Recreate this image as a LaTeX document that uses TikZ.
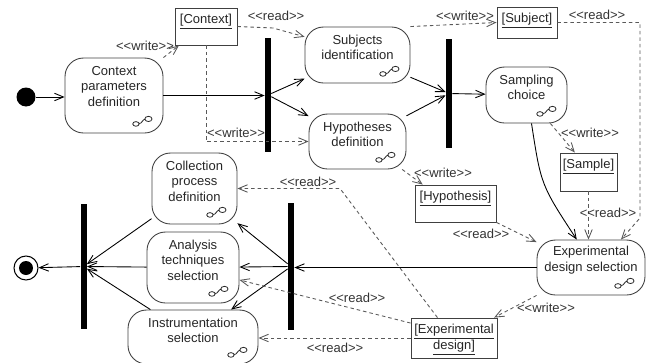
\documentclass[tikz,border=0pt]{standalone}
\usepackage{fontspec}
\newfontfamily\umlfont{Liberation Sans}[Ligatures=TeXOff]
\usetikzlibrary{arrows.meta}
\tikzset{
  act/.style={draw=black!75,line width=.5pt,rounded corners=.37cm,inner sep=0pt},
  obj/.style={draw=black!75,line width=.5pt,inner sep=0pt},
  txt/.style={align=center,font=\umlfont\fontsize{7.4}{8.9}\selectfont,text=black!85},
  otxt/.style={txt,anchor=north,inner sep=3.5pt},
  st/.style={font=\umlfont\fontsize{7.4}{8.9}\selectfont,text=black!80,inner sep=1pt},
  bar/.style={fill=black,minimum width=.12cm,inner sep=0pt},
  ini/.style={circle,fill=black,minimum size=.38cm,inner sep=0pt},
  fin/.style={circle,draw=black,line width=.6pt,minimum size=.48cm,inner sep=0pt,
    path picture={\fill[black] (path picture bounding box.center) circle (.14cm);}},
  flow/.style={line width=.5pt,-{Straight Barb[length=1.8mm,width=1.5mm]}},
  dep/.style={line width=.5pt,black!65,dash pattern=on 2pt off 1.7pt,-{Straight Barb[length=1.8mm,width=1.5mm]}},
  subact/.pic={
    \draw[line width=.45pt,black!85] (-6.5,2.5) ellipse (3.2 and 2.3) (6,-2.5) ellipse (3.6 and 2.6)
      (-3.3,2) .. controls (-0.5,2.5) and (0,-2) .. (2.4,-2.2);
  },
}
\begin{document}
\begin{tikzpicture}[x=0.02cm,y=-0.02cm]
  \useasboundingbox (0,0) rectangle (649,362);
  % initial and final nodes
  \node[ini] (start) at (26,97) {};
  \node[fin] (end) at (26,268) {};
  % activities
  \node[act,minimum width=1.96cm,minimum height=1.5cm,label={[txt,yshift=.18cm]center:Context\\parameters\\definition}] (cpd) at (114,95.5) {};
  \node[act,minimum width=2.1cm,minimum height=1.12cm,label={[txt,yshift=.15cm]center:Subjects\\identification}] (subj) at (357.5,55) {};
  \node[act,minimum width=1.94cm,minimum height=1.1cm,label={[txt,yshift=.14cm]center:Hypotheses\\definition}] (hyp) at (357.5,141.5) {};
  \node[act,minimum width=1.62cm,minimum height=1.12cm,label={[txt,yshift=.15cm]center:Sampling\\choice}] (samp) at (526.5,95) {};
  \node[act,minimum width=2.16cm,minimum height=1.1cm,label={[txt,yshift=.15cm]center:Experimental\\design selection}] (eds) at (591,267.5) {};
  \node[act,minimum width=1.7cm,minimum height=1.42cm,label={[txt,yshift=.15cm]center:Collection\\process\\definition}] (cpdef) at (194.5,188.5) {};
  \node[act,minimum width=1.84cm,minimum height=1.42cm,label={[txt,yshift=.15cm]center:Analysis\\techniques\\selection}] (ats) at (193,267.5) {};
  \node[act,minimum width=2.6cm,minimum height=1.08cm,label={[txt,yshift=.13cm]center:Instrumentation\\selection}] (ins) at (193,337) {};
  \foreach \n in {cpd,subj,hyp,samp,eds,cpdef,ats,ins}
    \pic at ([shift={(-21,-12)}]\n.south east) {subact};
  % objects
  \node[obj,minimum width=1.24cm,minimum height=.74cm,label={[otxt]north:\underline{[Context]}}] (ctx) at (206,26.5) {};
  \node[obj,minimum width=1.2cm,minimum height=.62cm,label={[otxt]north:\underline{[Subject]}}] (subjobj) at (527,22.5) {};
  \node[obj,minimum width=1.14cm,minimum height=.76cm,label={[otxt]north:\underline{[Sample]}}] (sampleobj) at (588.5,172) {};
  \node[obj,minimum width=1.62cm,minimum height=.74cm,label={[otxt]north:\underline{[Hypothesis]}}] (hypobj) at (455.5,203.5) {};
  \node[obj,minimum width=1.72cm,minimum height=.8cm,label={[otxt]north:\underline{[Experimental}\\\underline{design]}}] (edobj) at (454,338) {};
  % fork and join bars
  \node[bar,minimum height=2.28cm] (fork1) at (268,95) {};
  \node[bar,minimum height=2.18cm] (fork2) at (449,93.5) {};
  \node[bar,minimum height=2.54cm] (join1) at (291,266.5) {};
  \node[bar,minimum height=2.5cm] (join2) at (83.5,266.5) {};
  % control flow
  \draw[flow] (start) -- (start -| cpd.west);
  \draw[flow] (cpd) -- (cpd -| fork1.west);
  \draw[flow] (fork1) -- (subj);
  \draw[flow] (fork1) -- (hyp);
  \draw[flow] (subj) -- (fork2);
  \draw[flow] (hyp) -- (fork2);
  \draw[flow] (fork2) -- (samp);
  \draw[flow] (samp.-80) .. controls (541,185) .. (eds.117);
  \draw[flow] (eds) -- (eds -| join1.east);
  \foreach \t in {cpdef,ats,ins}{\draw[flow] (join1) -- (\t);}
  \foreach \t in {cpdef,ats,ins}{\draw[flow] (\t) -- (join2);}
  \draw[flow] (join2) -- (end);
  % object flow
  \draw[dep] (cpd.north east) -- (ctx.-145);
  \draw[dep] (ctx.east) -- (273,28) -- (subj.161);
  \draw[dep] (ctx.south) |- (hyp.west);
  \draw[dep] (subj.north east) -- (subjobj.west);
  \draw[dep] (subjobj.east) -| (640,218) -- (eds.43);
  \draw[dep] (samp.-50) -- (sampleobj.125);
  \draw[dep] (sampleobj.south) -- (sampleobj.south |- eds.north);
  \draw[dep] (hyp.-32) -- (hypobj.150);
  \draw[dep] (hypobj.south east) -- (eds.155);
  \draw[dep] (eds.south west) -- (edobj.27);
  \draw[dep] (edobj.129) -- (340,188.5) -- (cpdef.east);
  \draw[dep] (edobj.161) -- (ats.-15);
  \draw[dep] (edobj.west) -- (edobj.west -| ins.east);
  % stereotypes
  \foreach \n/\x/\y/\s in {w1/145/46/write,r1/276/16/read,w2/236/133/write,w3/465/16/write,
      r2/597/15/read,w4/590/133/write,r3/608/213/read,w5/443/173/write,r4/481/234/read,
      w6/546/308/write,r5/308/182/read,r6/357/298/read,r7/335/348/read}
    \node[st] (st\n) at (\x,\y) {<<\s>>};
\end{tikzpicture}
\end{document}
